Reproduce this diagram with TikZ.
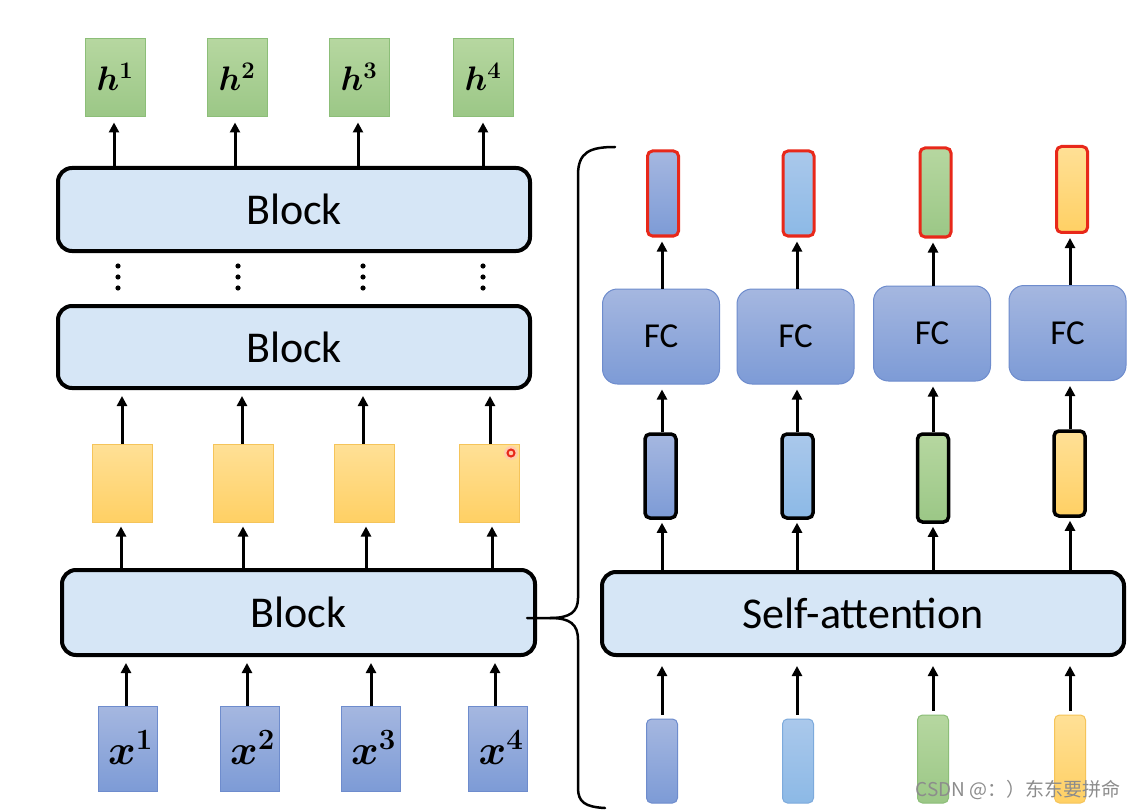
\RequirePackage{fix-cm}
\documentclass[tikz,border=0pt]{standalone}
\usepackage{fontspec}
\usepackage{bm}
\setmainfont{Carlito}
\newfontfamily\cjkfont{Noto Sans CJK SC}
\usetikzlibrary{arrows.meta}
\definecolor{blockfill}{RGB}{214,230,246}
\definecolor{gtop}{RGB}{182,215,160}
\definecolor{gbot}{RGB}{155,199,134}
\definecolor{gline}{RGB}{140,190,120}
\definecolor{ytop}{RGB}{255,224,150}
\definecolor{ybot}{RGB}{255,208,100}
\definecolor{yline}{RGB}{245,196,90}
\definecolor{btop}{RGB}{165,183,224}
\definecolor{bbot}{RGB}{125,155,214}
\definecolor{bline}{RGB}{110,140,205}
\definecolor{ltop}{RGB}{170,200,235}
\definecolor{lbot}{RGB}{140,185,230}
\definecolor{lline}{RGB}{125,170,220}
\definecolor{redline}{RGB}{232,40,26}
\begin{document}
\begin{tikzpicture}[x=1pt,y=-1pt,
  blockbox/.style={draw=black, line width=4pt, rounded corners=14pt, fill=blockfill,
    inner sep=0pt, font=\fontsize{44}{48}\selectfont},
  cell/.style={inner sep=0pt, line width=1pt, minimum width=#1},
  cell/.default=60pt,
  greencell/.style={cell, draw=gline, top color=gtop, bottom color=gbot, minimum height=78pt},
  yellowcell/.style={cell, draw=yline, top color=ytop, bottom color=ybot, minimum height=78pt},
  bluecell/.style={cell=59pt, draw=bline, top color=btop, bottom color=bbot, minimum height=85pt},
  fcbox/.style={inner sep=0pt, draw=bline, line width=1pt, rounded corners=15pt,
    top color=btop, bottom color=bbot, minimum width=117pt, minimum height=95pt,
    font=\fontsize{35}{40}\selectfont},
  vec/.style={inner sep=0pt, rounded corners=5pt, minimum width=31pt},
  darkvec/.style={vec, draw=black, line width=3.5pt},
  redvec/.style={vec, draw=redline, line width=3pt},
  thinvec/.style={vec, line width=1pt},
  cblue/.style={top color=btop, bottom color=bbot},
  clight/.style={top color=ltop, bottom color=lbot},
  cgreen/.style={top color=gtop, bottom color=gbot},
  cyellow/.style={top color=ytop, bottom color=ybot},
  arr/.style={line width=3pt, -{Triangle[length=10pt,width=10pt]}},
  hlab/.style={font=\fontsize{34}{36}\selectfont},
  xlab/.style={font=\fontsize{42}{44}\selectfont}
]
\useasboundingbox (0,0) rectangle (1139,810);
\fill[white] (0,0) rectangle (1139,810);

% ---------- left column ----------
\node[blockbox, minimum width=472pt, minimum height=83pt] (B3) at (294,209.5) {Block};
\node[blockbox, minimum width=472pt, minimum height=82pt] (B2) at (294,347) {Block};
\node[blockbox, minimum width=473pt, minimum height=85pt] (B1) at (298.5,612.5) {Block};

\node[greencell] (h1) at (115,78) {};
\node[greencell] (h2) at (237,78) {};
\node[greencell] (h3) at (359,78) {};
\node[greencell] (h4) at (483,78) {};
\foreach \i in {1,...,4}{
  \node[hlab] at ([yshift=1pt]h\i.center) {$\bm{h}^{\bm{\i}}$};
}

\node[yellowcell] (y1) at (122,483) {};
\node[yellowcell] (y2) at (243,483) {};
\node[yellowcell] (y3) at (364.5,483) {};
\node[yellowcell] (y4) at (489.5,483) {};

\node[bluecell] (x1) at (127.5,748.5) {};
\node[bluecell] (x2) at (249.5,748.5) {};
\node[bluecell] (x3) at (370.5,748.5) {};
\node[bluecell] (x4) at (498,748.5) {};
\foreach \i in {1,...,4}{
  \node[xlab] at ([xshift=3pt,yshift=1pt]x\i.center) {$\bm{x}^{\bm{\i}}$};
}

% arrows left
\foreach \i/\xx in {1/114,2/235,3/358,4/483}{
  \draw[arr, shorten >=5pt] (\xx,0 |- B3.north) -- (\xx,0 |- h\i.south);
}
\foreach \i/\xx in {1/122,2/242,3/363,4/490}{
  \draw[arr, shorten >=6pt] (\xx,0 |- y\i.north) -- (\xx,0 |- B2.south);
}
\foreach \i/\xx in {1/121,2/243,3/366,4/492}{
  \draw[arr, shorten >=4pt] (\xx,0 |- B1.north) -- (\xx,0 |- y\i.south);
}
\foreach \i/\xx in {1/126,2/247,3/371,4/495}{
  \draw[arr, shorten >=6pt] (\xx,0 |- x\i.north) -- (\xx,0 |- B1.south);
}

% vertical dots
\foreach \xx in {118,238,363,483}{
  \foreach \yy in {266,277,288}{
    \fill (\xx,\yy) circle (2.6pt);
  }
}

% red pointer mark
\fill[red!25, opacity=0.6] (511,453) circle (7pt);
\draw[redline, line width=2pt] (511,453) circle (3.5pt);

% ---------- right column ----------
\node[blockbox, minimum width=522pt, minimum height=83pt] (SA) at (863,613.5) {Self-attention};

\node[fcbox] (fc1) at (661,336.5) {FC};
\node[fcbox] (fc2) at (795.5,336.5) {FC};
\node[fcbox] (fc3) at (932,333.5) {FC};
\node[fcbox] (fc4) at (1067.5,333) {FC};

\node[redvec, cblue, minimum height=85pt] (o1) at (663,193.5) {};
\node[redvec, clight, minimum height=85pt] (o2) at (798.5,193.5) {};
\node[redvec, cgreen, minimum height=89pt] (o3) at (935.5,192.5) {};
\node[redvec, cyellow, minimum height=86pt] (o4) at (1072,189.5) {};

\node[darkvec, cblue, minimum height=84pt] (m1) at (660.5,476) {};
\node[darkvec, clight, minimum height=84pt] (m2) at (797.5,476) {};
\node[darkvec, cgreen, minimum height=88pt] (m3) at (933,478) {};
\node[darkvec, cyellow, minimum height=85pt] (m4) at (1069.5,473.5) {};

\node[thinvec, cblue, draw=bline, minimum height=84pt] (i1) at (662,761) {};
\node[thinvec, clight, draw=lline, minimum height=84pt] (i2) at (798,761) {};
\node[thinvec, cgreen, draw=gline, minimum height=88pt] (i3) at (933,759) {};
\node[thinvec, cyellow, draw=yline, minimum height=88pt] (i4) at (1070,759) {};

\foreach \i/\xx in {1/662,2/797,3/933,4/1070}{
  \draw[arr, shorten >=4pt] (\xx,0 |- fc\i.north) -- (\xx,0 |- o\i.south);
  \draw[arr, shorten >=5pt] (\xx,0 |- m\i.north) -- (\xx,0 |- fc\i.south);
  \draw[arr, shorten >=3pt] (\xx,0 |- SA.north) -- (\xx,0 |- m\i.south);
  \draw[arr, shorten <=4pt, shorten >=9pt] (\xx,0 |- i\i.north) -- (\xx,0 |- SA.south);
}

% ---------- brace ----------
\draw[line width=2.5pt, line cap=round]
  (615,147) .. controls (590,147) and (578,152) .. (578,175)
  -- (578,598) .. controls (578,612) and (570,618) .. (550,618) -- (527,618);
\draw[line width=2.5pt, line cap=round]
  (550,618) .. controls (570,618) and (578,624) .. (578,640)
  -- (578,788) .. controls (578,802) and (585,807) .. (605,808);

% ---------- watermark ----------
\node[font=\cjkfont\fontsize{19}{21}\selectfont, text=black!45, anchor=east] at (1124,790) {CSDN @：）东东要拼命};
\end{tikzpicture}
\end{document}
